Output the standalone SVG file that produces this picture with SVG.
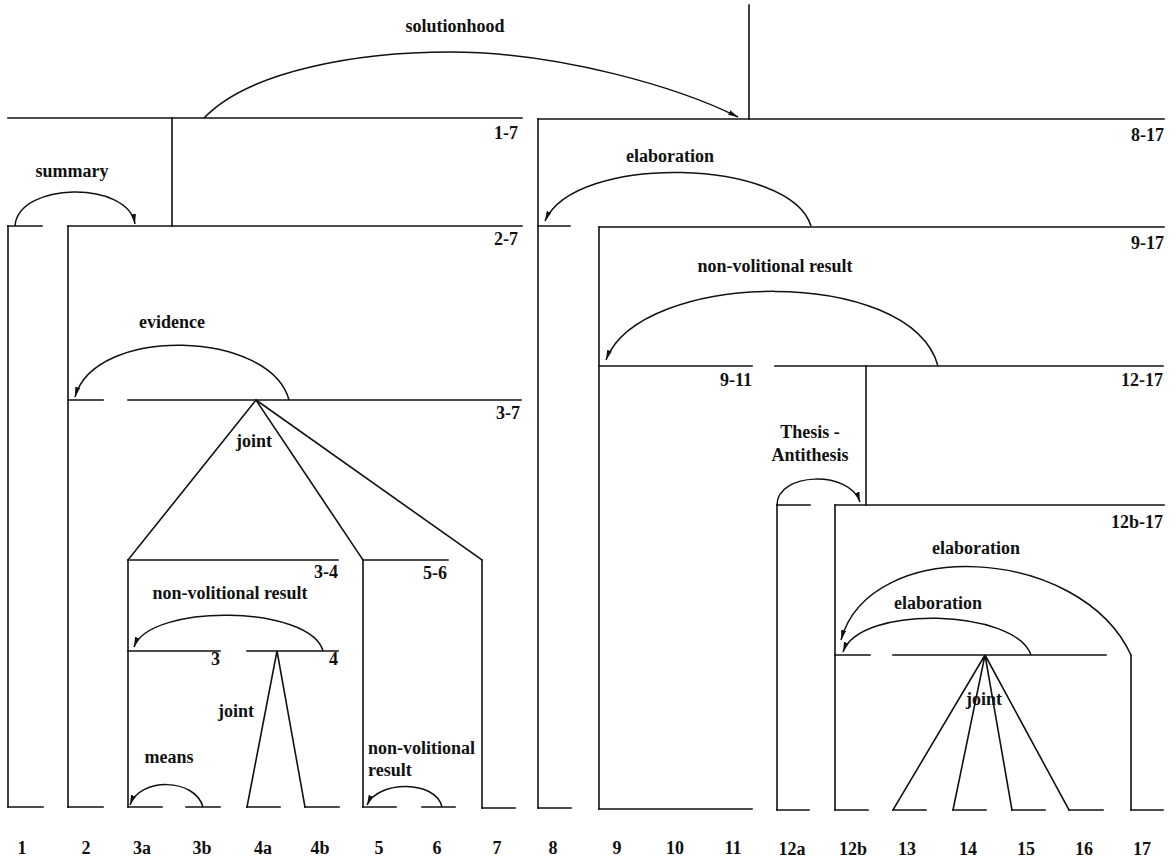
<svg xmlns="http://www.w3.org/2000/svg" width="1176" height="863" viewBox="0 0 1176 863">
<defs>
<style>
line,polyline{stroke:#111;stroke-width:1.6;fill:none;stroke-linecap:square}
.arc{stroke:#111;stroke-width:1.5;fill:none}
.arr{marker-end:url(#ah)}
text{font-family:"Liberation Serif","Times New Roman",serif;font-weight:bold;font-size:18px;fill:#111}
.r{text-anchor:end}
.m{text-anchor:middle}
</style>
<marker id="ah" viewBox="0 0 10 6" refX="10" refY="3" markerWidth="10" markerHeight="6" markerUnits="userSpaceOnUse" orient="auto"><path d="M0,0.5 L10,3 L0,5.5 z" fill="#111"/></marker>
</defs>
<rect width="1176" height="863" fill="#fff"/>

<g id="span-1-17"><line x1="749" y1="5" x2="749" y2="119"/></g>

<g id="span-1-7">
<line x1="8" y1="118" x2="522" y2="118"/>
<line x1="172" y1="118" x2="172" y2="226"/>
<text class="r" x="518" y="139">1-7</text>
</g>

<g id="unit-1">
<line x1="8" y1="226" x2="42" y2="226"/>
<line x1="8" y1="226" x2="8" y2="807"/>
<line x1="8" y1="807" x2="43" y2="807"/>
<text class="m" x="22" y="854">1</text>
</g>

<g id="span-2-7">
<line x1="68" y1="226" x2="522" y2="226"/>
<text class="r" x="518" y="245">2-7</text>
</g>

<g id="unit-2">
<line x1="68" y1="226" x2="68" y2="807"/>
<line x1="68" y1="400" x2="103" y2="400"/>
<line x1="68" y1="807" x2="103" y2="807"/>
<text class="m" x="86" y="854">2</text>
</g>

<g id="span-3-7">
<line x1="128" y1="400" x2="521" y2="400"/>
<text class="r" x="520" y="419">3-7</text>
</g>

<g id="span-3-4">
<line x1="128" y1="560" x2="338" y2="560"/>
<line x1="128" y1="560" x2="128" y2="807"/>
<text class="r" x="338" y="578">3-4</text>
</g>

<g id="unit-3">
<line x1="128" y1="651" x2="220" y2="651"/>
<text class="r" x="220" y="665">3</text>
</g>

<g id="unit-3a">
<line x1="128" y1="807" x2="162" y2="807"/>
<text class="m" x="142" y="854">3a</text>
</g>

<g id="unit-3b">
<line x1="186" y1="807" x2="220" y2="807"/>
<text class="m" x="202" y="854">3b</text>
</g>

<g id="unit-4">
<line x1="247" y1="651" x2="338" y2="651"/>
<text class="r" x="338" y="665">4</text>
</g>

<g id="unit-4a">
<line x1="247" y1="807" x2="280" y2="807"/>
<text class="m" x="263" y="854">4a</text>
</g>

<g id="unit-4b">
<line x1="305" y1="807" x2="339" y2="807"/>
<text class="m" x="320" y="854">4b</text>
</g>

<g id="span-5-6">
<line x1="363" y1="560" x2="448" y2="560"/>
<line x1="363" y1="560" x2="363" y2="807"/>
<text class="r" x="447" y="579">5-6</text>
</g>

<g id="unit-5">
<line x1="363" y1="807" x2="396" y2="807"/>
<text class="m" x="379" y="854">5</text>
</g>

<g id="unit-6">
<line x1="422" y1="807" x2="455" y2="807"/>
<text class="m" x="437" y="854">6</text>
</g>

<g id="unit-7">
<line x1="482" y1="560" x2="482" y2="808"/>
<line x1="482" y1="808" x2="515" y2="808"/>
<text class="m" x="497" y="854">7</text>
</g>

<g id="span-8-17">
<line x1="538" y1="119" x2="1164" y2="119"/>
<text class="r" x="1164" y="141">8-17</text>
</g>

<g id="unit-8">
<line x1="538" y1="119" x2="538" y2="808"/>
<line x1="538" y1="226" x2="570" y2="226"/>
<line x1="538" y1="808" x2="571" y2="808"/>
<text class="m" x="553" y="854">8</text>
</g>

<g id="span-9-17">
<line x1="599" y1="227" x2="1164" y2="227"/>
<text class="r" x="1164" y="249">9-17</text>
</g>

<g id="span-9-11">
<line x1="599" y1="366" x2="752" y2="366"/>
<line x1="599" y1="227" x2="599" y2="809"/>
<line x1="599" y1="809" x2="752" y2="809"/>
<text class="r" x="752" y="386">9-11</text>
<text class="m" x="617" y="854">9</text>
<text class="m" x="675" y="854">10</text>
<text class="m" x="733" y="854">11</text>
</g>

<g id="span-12-17">
<line x1="775" y1="366" x2="1163" y2="366"/>
<line x1="866" y1="366" x2="866" y2="505"/>
<text class="r" x="1163" y="386">12-17</text>
</g>

<g id="unit-12a">
<line x1="777" y1="505" x2="810" y2="505"/>
<line x1="777" y1="505" x2="777" y2="810"/>
<line x1="777" y1="810" x2="809" y2="810"/>
<text class="m" x="792" y="855">12a</text>
</g>

<g id="span-12b-17">
<line x1="835" y1="505" x2="1164" y2="505"/>
<text class="r" x="1163" y="528">12b-17</text>
</g>

<g id="unit-12b">
<line x1="835" y1="505" x2="835" y2="810"/>
<line x1="835" y1="655" x2="870" y2="655"/>
<line x1="835" y1="810" x2="868" y2="810"/>
<text class="m" x="853" y="855">12b</text>
</g>

<g id="span-13-16">
<line x1="893" y1="655" x2="1106" y2="655"/>
</g>

<g id="unit-13">
<line x1="893" y1="810" x2="926" y2="810"/>
<text class="m" x="907" y="855">13</text>
</g>
<g id="unit-14">
<line x1="953" y1="810" x2="986" y2="810"/>
<text class="m" x="968" y="855">14</text>
</g>
<g id="unit-15">
<line x1="1012" y1="810" x2="1045" y2="810"/>
<text class="m" x="1026" y="855">15</text>
</g>
<g id="unit-16">
<line x1="1069" y1="810" x2="1103" y2="810"/>
<text class="m" x="1084" y="855">16</text>
</g>
<g id="unit-17">
<line x1="1131" y1="655" x2="1131" y2="810"/>
<line x1="1131" y1="810" x2="1163" y2="810"/>
<text class="m" x="1142" y="855">17</text>
</g>

<g id="connectors">
<path class="arc arr" d="M204,118 C250,70 360,52 450,52 C560,52 680,88 738,117"/>
<text class="m" x="455" y="32">solutionhood</text>

<path class="arc arr" d="M15,226 C18,182 128,180 135,224"/>
<text class="m" x="72" y="177">summary</text>

<path class="arc arr" d="M811,226 C790,158 575,153 545,221"/>
<text class="m" x="670" y="162">elaboration</text>

<path class="arc arr" d="M938,366 C910,265 640,270 606,360"/>
<text class="m" x="775" y="272">non-volitional result</text>

<path class="arc arr" d="M289,400 C270,330 95,325 75,397"/>
<text class="m" x="172" y="328">evidence</text>

<polyline points="128,560 256,400 363,560"/>
<line x1="256" y1="400" x2="482" y2="560"/>
<text class="m" x="254" y="447">joint</text>

<path class="arc arr" d="M323,651 C310,605 150,603 134,647"/>
<text class="m" x="230" y="599">non-volitional result</text>

<polyline points="247,807 277,651 305,807"/>
<text class="m" x="236" y="717">joint</text>

<path class="arc arr" d="M203,807 C195,778 140,777 130,805"/>
<text class="m" x="169" y="763">means</text>

<path class="arc arr" d="M442,807 C436,780 378,780 367,805"/>
<text x="368" y="754">non-volitional</text>
<text x="368" y="776">result</text>

<path class="arc arr" d="M777,505 C777,472 850,470 860,502"/>
<text class="m" x="810" y="438">Thesis -</text>
<text class="m" x="810" y="461">Antithesis</text>

<path class="arc arr" d="M1131,655 C1080,545 870,535 841,640"/>
<text class="m" x="976" y="554">elaboration</text>

<path class="arc arr" d="M1031,655 C1015,609 860,604 843,652"/>
<text class="m" x="938" y="609">elaboration</text>

<polyline points="893,810 985,655 953,810"/>
<polyline points="1012,810 985,655 1069,810"/>
<text class="m" x="984" y="705">joint</text>
</g>
</svg>
